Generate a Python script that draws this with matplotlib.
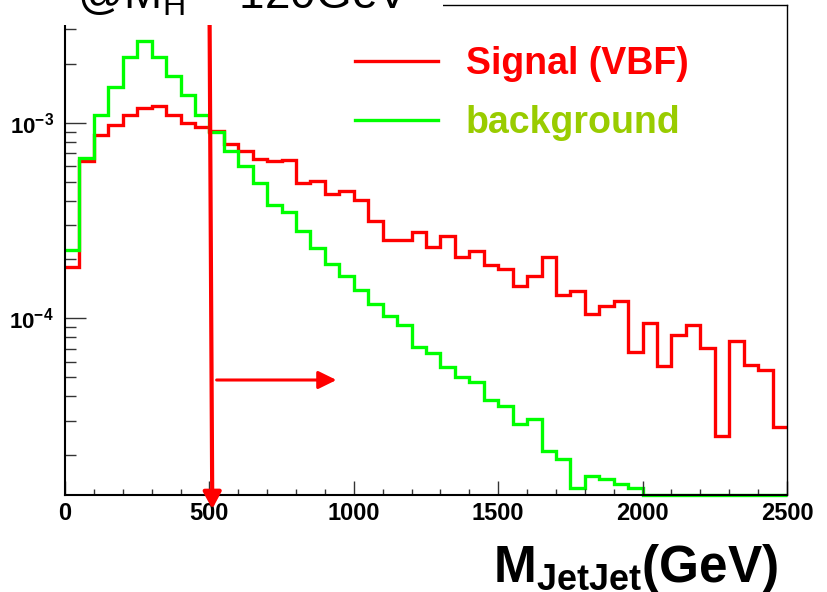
import numpy as np
import matplotlib
matplotlib.use("Agg")
import matplotlib.pyplot as plt
from matplotlib.patches import Rectangle
from matplotlib.ticker import MultipleLocator, LogLocator, FuncFormatter, NullFormatter

plt.rcParams['font.family'] = ['Liberation Sans', 'DejaVu Sans']
plt.rcParams['mathtext.fontset'] = 'custom'
plt.rcParams['mathtext.rm'] = 'Liberation Sans'
plt.rcParams['mathtext.bf'] = 'Liberation Sans:bold'

# histogram binning: 50 bins of 50 GeV
bin_edges = np.arange(0, 2550, 50)

# normalised M_JetJet distributions
signal = [1.83e-4, 6.4e-4, 8.7e-4, 9.7e-4, 1.10e-3, 1.19e-3, 1.22e-3, 1.09e-3, 1.00e-3, 9.5e-4,
          9.1e-4, 7.78e-4, 7.19e-4, 6.52e-4, 6.4e-4, 6.47e-4, 4.92e-4, 5.01e-4, 4.32e-4, 4.46e-4,
          4.04e-4, 3.13e-4, 2.52e-4, 2.52e-4, 2.78e-4, 2.31e-4, 2.65e-4, 2.06e-4, 2.20e-4, 1.88e-4,
          1.79e-4, 1.46e-4, 1.65e-4, 2.05e-4, 1.31e-4, 1.38e-4, 1.05e-4, 1.15e-4, 1.23e-4, 6.7e-5,
          9.5e-5, 5.68e-5, 8.18e-5, 9.27e-5, 7.05e-5, 2.49e-5, 7.62e-5, 5.79e-5, 5.42e-5, 2.78e-5]
background = [2.24e-4, 6.6e-4, 1.10e-3, 1.52e-3, 2.17e-3, 2.61e-3, 2.18e-3, 1.74e-3, 1.39e-3, 1.10e-3,
              8.96e-4, 7.19e-4, 5.98e-4, 4.92e-4, 3.81e-4, 3.48e-4, 2.81e-4, 2.29e-4, 1.90e-4, 1.65e-4,
              1.40e-4, 1.18e-4, 1.03e-4, 9.2e-5, 7.13e-5, 6.65e-5, 5.61e-5, 4.99e-5, 4.72e-5, 3.84e-5,
              3.57e-5, 2.88e-5, 3.07e-5, 2.09e-5, 1.91e-5, 1.36e-5, 1.57e-5, 1.51e-5, 1.43e-5, 1.35e-5,
              0, 0, 0, 0, 0, 0, 0, 0, 0, 0]

# cut position and the arrow showing the selected region
cut_value = 500
arrow_start, arrow_end, arrow_level = 525, 940, 4.84e-5

y_min, y_max = 1.25e-5, 4.0e-3

W, H = 827, 592
fig = plt.figure(figsize=(W / 100, H / 100), dpi=100)
ax = fig.add_axes([65 / W, 1 - 495 / H, 722 / W, 490 / H])
ax.set_yscale('log')

# zero bins are drawn on the lower frame, like ROOT does
sig_plot = np.clip(signal, y_min, None)
bkg_plot = np.clip(background, y_min, None)
ax.stairs(sig_plot, bin_edges, baseline=None, color='#ff0000', lw=2.4, label='Signal (VBF)', clip_on=False)
ax.stairs(bkg_plot, bin_edges, baseline=None, color='#00ff00', lw=2.4, label='background', clip_on=False)

ax.set_xlim(0, 2500)
ax.set_ylim(y_min, y_max)

# cut arrow (vertical) and direction arrow
ax.annotate('', xy=(cut_value + 10, 1.06e-5), xytext=(cut_value, 5e-3),
            arrowprops=dict(arrowstyle='-|>,head_length=0.5,head_width=0.27', color='#ff0000',
                            lw=3, mutation_scale=20, shrinkA=0, shrinkB=0),
            annotation_clip=False)
ax.annotate('', xy=(arrow_end, arrow_level), xytext=(arrow_start, arrow_level),
            arrowprops=dict(arrowstyle='-|>,head_length=0.55,head_width=0.27', color='#ff0000',
                            lw=2.2, mutation_scale=20, shrinkA=0, shrinkB=0))

# axes style
ax.xaxis.set_major_locator(MultipleLocator(500))
ax.xaxis.set_minor_locator(MultipleLocator(100))
ax.yaxis.set_major_locator(LogLocator(base=10))
ax.yaxis.set_minor_locator(LogLocator(base=10, subs=np.arange(2, 10)))
ax.yaxis.set_minor_formatter(NullFormatter())
ax.yaxis.set_major_formatter(FuncFormatter(lambda v, p: r'$\mathbf{10^{%d}}$' % int(round(np.log10(v)))))
ax.tick_params(axis='both', which='both', direction='in', top=False, right=False, color='#333333')
ax.tick_params(axis='x', which='major', length=10, width=1, pad=5, labelsize=17)
ax.tick_params(axis='x', which='minor', length=4.5, width=1)
ax.tick_params(axis='y', which='major', length=15, width=1, pad=8, labelsize=16)
ax.tick_params(axis='y', which='minor', length=8, width=1)
for lab in ax.get_xticklabels():
    lab.set_fontweight('bold')
ax.spines['left'].set_linewidth(1.5)
ax.spines['bottom'].set_linewidth(1.5)
ax.spines['top'].set_linewidth(1)
ax.spines['right'].set_linewidth(1)

# legend
leg = ax.legend(loc='center left', bbox_to_anchor=(0.4017, 0.8194), frameon=False,
                prop={'size': 27, 'weight': 'bold'}, handlelength=2.2, handletextpad=0.75,
                labelspacing=0.62, borderpad=0, borderaxespad=0)
for txt, col in zip(leg.get_texts(), ['#ff0000', '#99cc00']):
    txt.set_color(col)

# x label
fig.text(778 / W, 1 - 582 / H, r'$\mathbf{M_{JetJet}(GeV)}$', ha='right', va='baseline', fontsize=37)

# title pave, cut at the top of the picture
fig.add_artist(Rectangle((0, 1 - 25 / H), 443 / W, 25 / H, transform=fig.transFigure,
                         facecolor='white', edgecolor='none', zorder=5))
fig.text(77 / W, 1 - 8 / H, r'@M$_\mathregular{H}$ = 120GeV', ha='left', va='baseline',
         fontsize=33, zorder=6)

fig.savefig('out.png', dpi=100)
